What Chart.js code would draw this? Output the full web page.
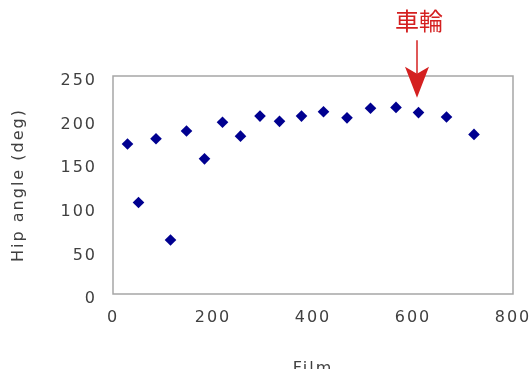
<!DOCTYPE html>
<html>
<head>
<meta charset="utf-8">
<script src="https://cdn.jsdelivr.net/npm/chart.js@4/dist/chart.umd.min.js"></script>
<style>
html,body{margin:0;padding:0;background:#fff;overflow:hidden;}
</style>
</head>
<body>
<canvas id="c" width="529" height="380"></canvas>
<script>
// Data
const filmFrames = [29, 51, 86, 115, 147, 183, 219, 255, 294, 333, 377, 421, 468, 515, 566, 611, 667, 722];
const hipAngles  = [172, 105, 178, 62, 187, 155, 197, 181, 204, 198, 204, 209, 202, 213, 214, 208, 203, 183];
const xTicks = [0, 200, 400, 600, 800];
const yTicks = [0, 50, 100, 150, 200, 250];
const xTitle = 'Film';
const yTitle = 'Hip angle (deg)';
const noteText = '車輪';
const noteX = 608;          // frame the arrow points at
const noteTipY = 225;       // arrow tip (deg)
const noteTailY = 291;      // arrow tail (deg)
const noteTextY = 313;      // label centre (deg)

const points = filmFrames.map((x, i) => ({x: x, y: hipAngles[i]}));

const framePlugin = {
  id: 'frame',
  beforeDraw(chart) {
    chart.ctx.letterSpacing = '2px';
    const s = chart.scales.y;
    if (s && !s._patched) {
      const orig = s.drawLabels.bind(s);
      s.drawLabels = function(area) {
        const ctx = chart.ctx;
        ctx.save(); ctx.translate(0, 5); orig(area); ctx.restore();
      };
      s._patched = true;
    }
  },
  beforeDatasetsDraw(chart) {
    const a = chart.chartArea, ctx = chart.ctx;
    ctx.save();
    ctx.strokeStyle = '#a6a6a6';
    ctx.lineWidth = 1.5;
    ctx.strokeRect(a.left, a.top, a.right - a.left, a.bottom - a.top);
    ctx.restore();
  },
  afterDraw(chart) {
    const ctx = chart.ctx, xs = chart.scales.x, ys = chart.scales.y;
    const x = xs.getPixelForValue(noteX);
    const tip = ys.getPixelForValue(noteTipY);
    const tail = ys.getPixelForValue(noteTailY);
    const ty = ys.getPixelForValue(noteTextY);
    ctx.save();
    ctx.letterSpacing = '0px';
    ctx.fillStyle = '#d42020';
    ctx.strokeStyle = '#d42020';
    ctx.font = '24px "Noto Sans CJK JP"';
    ctx.textAlign = 'center';
    ctx.textBaseline = 'middle';
    ctx.fillText(noteText, x + 2, ty);
    ctx.lineWidth = 1.5;
    ctx.beginPath();
    ctx.moveTo(x, tail);
    ctx.lineTo(x, tip - 20);
    ctx.stroke();
    ctx.beginPath();
    ctx.moveTo(x, tip);
    ctx.lineTo(x - 12, tip - 31);
    ctx.lineTo(x, tip - 24);
    ctx.lineTo(x + 12, tip - 31);
    ctx.closePath();
    ctx.fill();
    ctx.restore();
  }
};

const tickFont = {family: '"DejaVu Sans"', size: 16};

new Chart(document.getElementById('c'), {
  type: 'scatter',
  data: {
    datasets: [{
      data: points,
      pointStyle: 'rectRot',
      pointRadius: 5.8,
      pointBackgroundColor: '#000090',
      pointBorderColor: '#000090',
      pointBorderWidth: 0
    }]
  },
  options: {
    responsive: false,
    animation: false,
    devicePixelRatio: 1,
    layout: {padding: {top: 76, right: 16, bottom: 0, left: 0}},
    plugins: {legend: {display: false}, tooltip: {enabled: false}},
    scales: {
      x: {
        type: 'linear', min: 0, max: 800,
        afterBuildTicks: s => { s.ticks = xTicks.map(v => ({value: v})); },
        afterFit: s => { s.height = 86; s.paddingLeft = 0; s.paddingRight = 0; },
        grid: {display: false, drawTicks: false},
        border: {display: false},
        ticks: {font: tickFont, color: '#404040', padding: 14, maxRotation: 0},
        title: {display: true, text: xTitle, font: tickFont, color: '#404040', padding: {top: 0, bottom: 2}}
      },
      y: {
        type: 'linear', min: 0, max: 250,
        afterBuildTicks: s => { s.ticks = yTicks.map(v => ({value: v})); },
        afterFit: s => { s.width = 113; s.paddingTop = 0; s.paddingBottom = 0; },
        grid: {display: false, drawTicks: false},
        border: {display: false},
        ticks: {font: tickFont, color: '#404040', padding: 16},
        title: {display: true, text: yTitle, font: tickFont, color: '#404040', padding: {top: 9, bottom: 0}}
      }
    }
  },
  plugins: [framePlugin]
});
</script>
</body>
</html>
